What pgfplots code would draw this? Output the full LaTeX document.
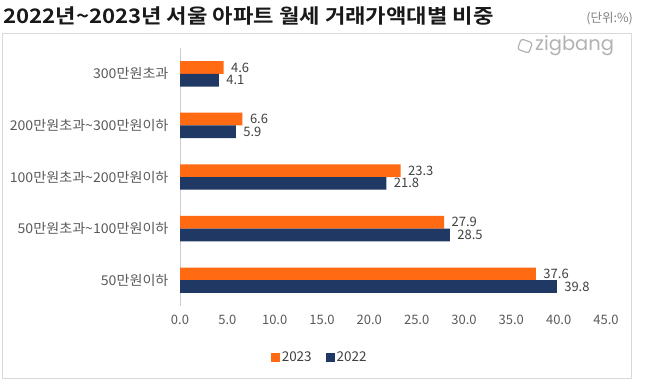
\documentclass[border=0pt]{standalone}
\usepackage{pgfplots}
\pgfplotsset{compat=1.18}
\usepackage{fontspec}
\newfontfamily\kr{Noto Sans CJK KR}[BoldFont={Noto Sans CJK KR Bold}]
\newfontfamily\krw{Noto Sans CJK KR}[FakeStretch=1.045]
\newfontfamily\pop{Poppins}
\definecolor{cOrange}{HTML}{FF6A13}
\definecolor{cNavy}{HTML}{203864}
\definecolor{cText}{HTML}{404040}
\definecolor{cLab}{HTML}{595959}
\pgfplotsset{sqlegend/.style={legend image code/.code={\fill[##1] (0pt,-4.5pt) rectangle (9pt,4.5pt);}}}
\begin{document}
\begin{tikzpicture}[x=1pt,y=1pt]
\useasboundingbox (0,0) rectangle (650,384);
\draw[black!15, line width=1pt] (2.5,6) rectangle (631.5,351);
\node[anchor=base west, inner sep=0pt, font=\kr\bfseries\fontsize{20}{24}\selectfont, text=black!90] at (3,360) {\scalebox{1.11}[1]{2022년\textasciitilde 2023년 서울 아파트 월세 거래가액대별 비중}};
\node[anchor=base east, inner sep=0pt, font=\kr\fontsize{12.5}{15}\selectfont, text=black!50] at (633,362) {(단위:\%)};
\node[anchor=west, inner sep=0pt, font=\pop\fontsize{19.5}{22}\selectfont, text=black!30] at (535,338) {zigbang};
\draw[black!30, line width=1.2pt, rounded corners=2.5pt, rotate around={-20:(525,338)}] (519,332.5) rectangle (531,343.5);
\begin{axis}[
  at={(180pt,78pt)}, anchor=south west,
  scale only axis, width=426pt, height=258pt,
  xmin=0, xmax=45, ymin=-0.5, ymax=4.5,
  xbar, bar width=12.7pt,
  axis x line*=bottom, axis y line*=left,
  x axis line style={draw=none},
  y axis line style={draw=black!20, line width=0.8pt},
  major tick length=0pt,
  xtick={0,5,...,45},
  xticklabels={0.0,5.0,10.0,15.0,20.0,25.0,30.0,35.0,40.0,45.0},
  ytick={0,1,2,3,4},
  yticklabels={50만원이하,50만원초과\textasciitilde 100만원이하,100만원초과\textasciitilde 200만원이하,200만원초과\textasciitilde 300만원이하,300만원초과},
  xticklabel style={font=\kr\fontsize{13}{15}\selectfont, text=cLab, yshift=-6pt},
  yticklabel style={font=\krw\fontsize{13.5}{16}\selectfont, text=cLab, xshift=-8pt},
  /pgf/number format/assume math mode=true,
  nodes near coords,
  nodes near coords style={font=\kr\fontsize{13}{15}\selectfont, text=cText, xshift=4pt, /pgf/number format/.cd, fixed, fixed zerofill, precision=1},
  legend columns=2,
  legend style={at={(0.328,-0.198)}, anchor=center, draw=none, fill=none, font=\kr\fontsize{13.5}{15}\selectfont, text=cText, inner sep=0pt, /tikz/every even column/.append style={column sep=12pt}},
  legend cell align=left,
  clip=false,
]
\addplot[fill=cOrange, draw=none, bar shift=6.35pt, sqlegend] coordinates {(37.6,0) (27.9,1) (23.3,2) (6.6,3) (4.6,4)};
\addlegendentry{2023}
\addplot[fill=cNavy, draw=none, bar shift=-6.35pt, sqlegend] coordinates {(39.8,0) (28.5,1) (21.8,2) (5.9,3) (4.1,4)};
\addlegendentry{2022}
\end{axis}
\end{tikzpicture}
\end{document}
